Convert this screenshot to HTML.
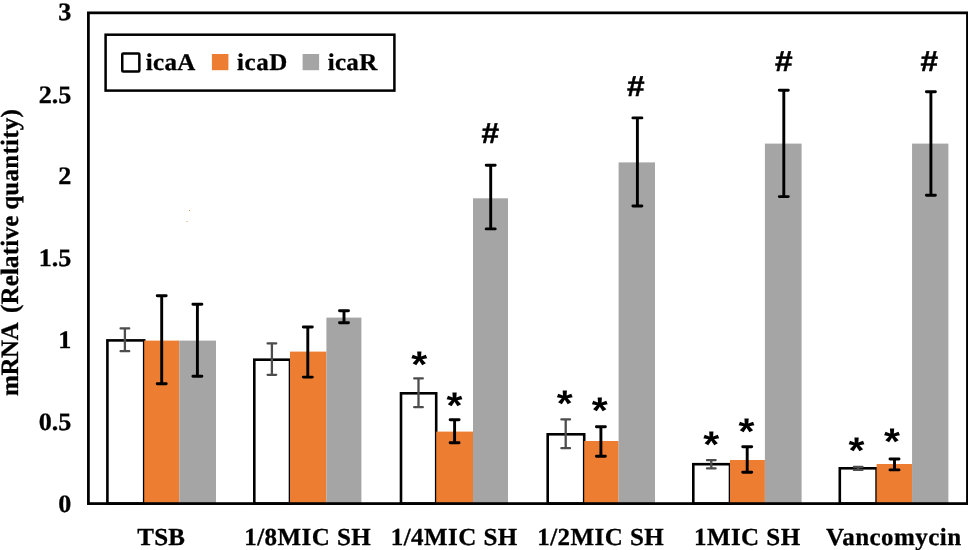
<!DOCTYPE html>
<html><head><meta charset="utf-8"><title>chart</title>
<style>
html,body{margin:0;padding:0;background:#fff;overflow:hidden}
svg{display:block}
text{font-family:"Liberation Serif","Times New Roman",serif;font-weight:bold;fill:#000;text-rendering:geometricPrecision;stroke:#000;stroke-width:0.3px;}
.s{font-family:"Liberation Sans",Arial,sans-serif;stroke-width:0;}
.h{font-family:"Liberation Sans",Arial,sans-serif;stroke-width:0.5px;}
</style></head><body>
<svg width="968" height="550" viewBox="0 0 968 550">
<rect width="968" height="550" fill="#fff"/>

<rect x="107.40" y="340.40" width="36.80" height="163.20" fill="#fff" stroke="#000" stroke-width="2.6"/>
<rect x="144.20" y="340.60" width="35.10" height="163.00" fill="#ed7d31"/>
<rect x="179.30" y="340.60" width="36.70" height="163.00" fill="#a5a5a5"/>
<path d="M124.90 328.40V351.20M120.60 328.40H129.20M120.60 351.20H129.20" stroke="#4d4d4d" stroke-width="2.3" stroke-linecap="round" fill="none"/>
<path d="M161.70 295.70V383.80M157.20 295.70H166.20M157.20 383.80H166.20" stroke="#000" stroke-width="2.9" stroke-linecap="round" fill="none"/>
<path d="M197.40 304.20V376.20M192.90 304.20H201.90M192.90 376.20H201.90" stroke="#000" stroke-width="2.9" stroke-linecap="round" fill="none"/>
<text transform="translate(161.25,544.70) scale(1,0.98)" font-size="25" text-anchor="middle" letter-spacing="0.3">TSB</text>
<rect x="254.30" y="359.70" width="35.70" height="143.90" fill="#fff" stroke="#000" stroke-width="2.6"/>
<rect x="290.00" y="351.60" width="36.40" height="152.00" fill="#ed7d31"/>
<rect x="326.40" y="317.60" width="35.00" height="186.00" fill="#a5a5a5"/>
<path d="M271.90 343.40V374.80M267.60 343.40H276.20M267.60 374.80H276.20" stroke="#4d4d4d" stroke-width="2.3" stroke-linecap="round" fill="none"/>
<path d="M307.80 327.00V377.10M303.30 327.00H312.30M303.30 377.10H312.30" stroke="#000" stroke-width="2.9" stroke-linecap="round" fill="none"/>
<path d="M344.00 310.70V322.80M339.50 310.70H348.50M339.50 322.80H348.50" stroke="#000" stroke-width="2.9" stroke-linecap="round" fill="none"/>
<text transform="translate(307.75,544.70) scale(1,0.98)" font-size="25" text-anchor="middle" letter-spacing="0.45">1/8MIC SH</text>
<rect x="401.00" y="393.30" width="35.20" height="110.30" fill="#fff" stroke="#000" stroke-width="2.6"/>
<rect x="436.20" y="431.60" width="36.80" height="72.00" fill="#ed7d31"/>
<rect x="473.00" y="198.30" width="35.00" height="305.30" fill="#a5a5a5"/>
<path d="M418.50 378.40V407.20M414.20 378.40H422.80M414.20 407.20H422.80" stroke="#4d4d4d" stroke-width="2.3" stroke-linecap="round" fill="none"/>
<path d="M454.60 419.80V442.70M450.10 419.80H459.10M450.10 442.70H459.10" stroke="#000" stroke-width="2.9" stroke-linecap="round" fill="none"/>
<path d="M490.70 165.20V228.90M486.20 165.20H495.20M486.20 228.90H495.20" stroke="#000" stroke-width="2.9" stroke-linecap="round" fill="none"/>
<text transform="translate(454.25,544.70) scale(1,0.98)" font-size="25" text-anchor="middle" letter-spacing="0.45">1/4MIC SH</text>
<rect x="547.70" y="434.30" width="36.50" height="69.30" fill="#fff" stroke="#000" stroke-width="2.6"/>
<rect x="584.20" y="441.00" width="34.40" height="62.60" fill="#ed7d31"/>
<rect x="618.60" y="162.40" width="36.40" height="341.20" fill="#a5a5a5"/>
<path d="M565.70 419.40V448.20M561.40 419.40H570.00M561.40 448.20H570.00" stroke="#4d4d4d" stroke-width="2.3" stroke-linecap="round" fill="none"/>
<path d="M600.90 426.70V456.30M596.40 426.70H605.40M596.40 456.30H605.40" stroke="#000" stroke-width="2.9" stroke-linecap="round" fill="none"/>
<path d="M637.40 117.90V206.00M632.90 117.90H641.90M632.90 206.00H641.90" stroke="#000" stroke-width="2.9" stroke-linecap="round" fill="none"/>
<text transform="translate(600.75,544.70) scale(1,0.98)" font-size="25" text-anchor="middle" letter-spacing="0.45">1/2MIC SH</text>
<rect x="693.30" y="464.20" width="36.70" height="39.40" fill="#fff" stroke="#000" stroke-width="2.6"/>
<rect x="730.00" y="460.00" width="34.90" height="43.60" fill="#ed7d31"/>
<rect x="764.90" y="143.60" width="36.70" height="360.00" fill="#a5a5a5"/>
<path d="M711.30 460.20V468.40M707.00 460.20H715.60M707.00 468.40H715.60" stroke="#4d4d4d" stroke-width="2.3" stroke-linecap="round" fill="none"/>
<path d="M747.20 446.80V472.30M742.70 446.80H751.70M742.70 472.30H751.70" stroke="#000" stroke-width="2.9" stroke-linecap="round" fill="none"/>
<path d="M783.80 90.20V196.60M779.30 90.20H788.30M779.30 196.60H788.30" stroke="#000" stroke-width="2.9" stroke-linecap="round" fill="none"/>
<text transform="translate(747.25,544.70) scale(1,0.98)" font-size="25" text-anchor="middle" letter-spacing="0.45">1MIC SH</text>
<rect x="839.80" y="468.30" width="36.80" height="35.30" fill="#fff" stroke="#000" stroke-width="2.6"/>
<rect x="876.60" y="464.00" width="35.45" height="39.60" fill="#ed7d31"/>
<rect x="912.05" y="143.60" width="36.35" height="360.00" fill="#a5a5a5"/>
<path d="M858.20 466.90V469.90M853.90 466.90H862.50M853.90 469.90H862.50" stroke="#4d4d4d" stroke-width="2.3" stroke-linecap="round" fill="none"/>
<path d="M894.50 459.00V469.90M890.00 459.00H899.00M890.00 469.90H899.00" stroke="#000" stroke-width="2.9" stroke-linecap="round" fill="none"/>
<path d="M930.90 91.70V195.30M926.40 91.70H935.40M926.40 195.30H935.40" stroke="#000" stroke-width="2.9" stroke-linecap="round" fill="none"/>
<text transform="translate(893.75,544.70) scale(1,0.98)" font-size="25" text-anchor="middle" letter-spacing="0.45">Vancomycin</text>
<rect x="88.4" y="12.85" width="879.05" height="490.75" fill="none" stroke="#000" stroke-width="2.75"/>
<text transform="translate(71.40,512.20) scale(1.045,1.0)" font-size="25" text-anchor="end">0</text>
<text transform="translate(71.40,430.10) scale(1.045,1.0)" font-size="25" text-anchor="end">0.5</text>
<text transform="translate(71.40,348.10) scale(1.045,1.0)" font-size="25" text-anchor="end">1</text>
<text transform="translate(71.40,266.00) scale(1.045,1.0)" font-size="25" text-anchor="end">1.5</text>
<text transform="translate(71.40,184.40) scale(1.045,1.0)" font-size="25" text-anchor="end">2</text>
<text transform="translate(71.40,102.80) scale(1.045,1.0)" font-size="25" text-anchor="end">2.5</text>
<text transform="translate(71.40,20.10) scale(1.045,1.0)" font-size="25" text-anchor="end">3</text>
<text transform="translate(17.8,396.0) rotate(-90)" font-size="25" letter-spacing="-0.4">mRNA</text>
<text transform="translate(17.8,313.1) rotate(-90)" font-size="25" letter-spacing="0.2">(Relative</text>
<text transform="translate(17.8,209.8) rotate(-90)" font-size="25" letter-spacing="0.25">quantity)</text>
<text class="s" transform="translate(419.2,376.9) scale(1,0.9)" font-size="41" text-anchor="middle">*</text>
<text class="s" transform="translate(454.4,417.6) scale(1,0.9)" font-size="41" text-anchor="middle">*</text>
<text class="s" transform="translate(564.7,416.4) scale(1,0.9)" font-size="41" text-anchor="middle">*</text>
<text class="s" transform="translate(599.7,422.7) scale(1,0.9)" font-size="41" text-anchor="middle">*</text>
<text class="s" transform="translate(711.2,457.2) scale(1,0.9)" font-size="41" text-anchor="middle">*</text>
<text class="s" transform="translate(746.6,443.6) scale(1,0.9)" font-size="41" text-anchor="middle">*</text>
<text class="s" transform="translate(856.4,462.6) scale(1,0.9)" font-size="41" text-anchor="middle">*</text>
<text class="s" transform="translate(892.0,454.2) scale(1,0.9)" font-size="41" text-anchor="middle">*</text>
<text class="h" transform="translate(490.4,143.1) scale(1.09,1)" font-size="29" text-anchor="middle">#</text>
<text class="h" transform="translate(635.8,95.8) scale(1.09,1)" font-size="29" text-anchor="middle">#</text>
<text class="h" transform="translate(783.8,71.2) scale(1.09,1)" font-size="29" text-anchor="middle">#</text>
<text class="h" transform="translate(929.3,71.2) scale(1.09,1)" font-size="29" text-anchor="middle">#</text>
<rect x="105.6" y="34.7" width="288.8" height="55.9" fill="#fff" stroke="#000" stroke-width="2.5"/>
<rect x="122.25" y="53.45" width="17.1" height="18.1" rx="1" fill="#fff" stroke="#000" stroke-width="2.5"/>
<rect x="211.9" y="54" width="16.5" height="16.2" fill="#ed7d31"/>
<rect x="302.6" y="54" width="16.5" height="16.2" fill="#a5a5a5"/>
<text transform="translate(145.70,69.90) scale(1,0.96)" font-size="25" letter-spacing="0.35">icaA</text>
<text transform="translate(237.10,69.90) scale(1,0.96)" font-size="25" letter-spacing="0.5">icaD</text>
<text transform="translate(327.70,69.90) scale(1,0.96)" font-size="25" letter-spacing="0.3">icaR</text>
<rect x="189" y="210" width="1" height="1" fill="#d89a5a"/><rect x="186.5" y="221" width="1" height="1" fill="#d89a5a"/>
</svg></body></html>
